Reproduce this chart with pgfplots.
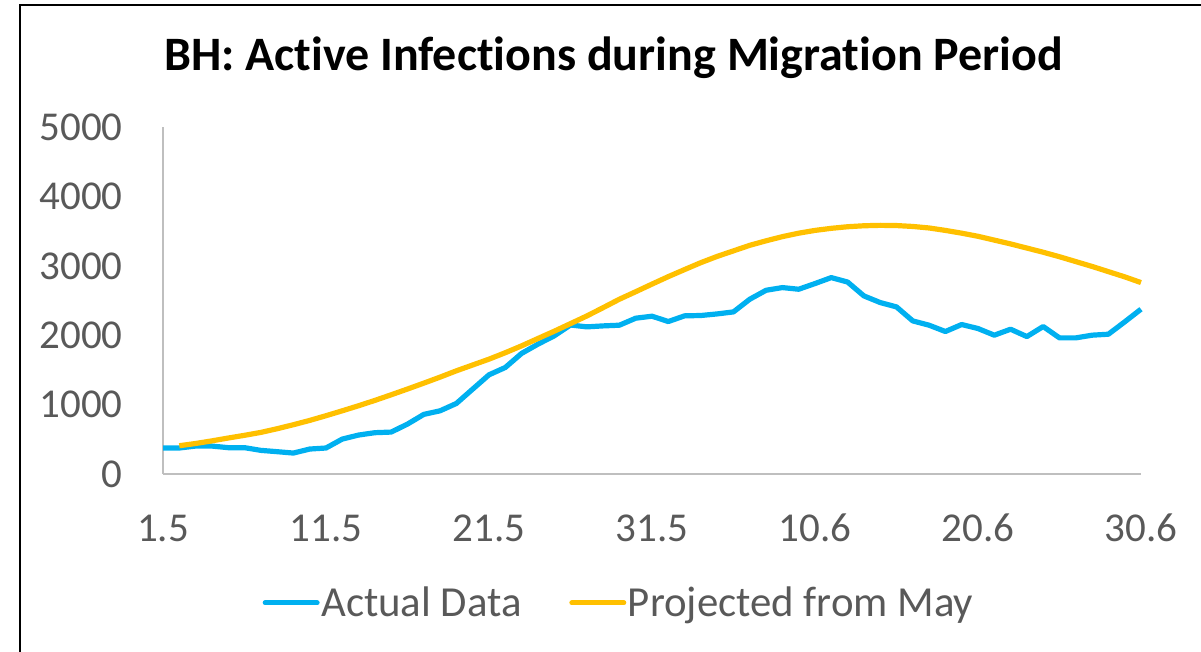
\documentclass[border=0pt]{standalone}
\usepackage{fontspec}
\setmainfont{Carlito}[Ligatures=NoCommon]
\usepackage{pgfplots}
\pgfplotsset{compat=1.18}
\definecolor{actblue}{HTML}{00B0F0}
\definecolor{projyel}{HTML}{FFC000}
\definecolor{tickgray}{HTML}{595959}
\definecolor{axgray}{HTML}{BFBFBF}
\begin{document}
\begin{tikzpicture}[x=1pt,y=1pt]
\useasboundingbox (0,0) rectangle (600.5,326);
% chart border (left and top visible)
\draw[black, line width=1pt] (10,-2) -- (10,323.5) -- (602,323.5);
% title
\node[font=\fontsize{24}{28}\selectfont\bfseries, text=black, anchor=base, inner sep=0pt] at (306.75,290.5) {BH: Active Infections during Migration Period};
\begin{axis}[
  at={(81.5pt,89pt)}, anchor=south west,
  scale only axis, width=489pt, height=173.25pt,
  xmin=0, xmax=60, ymin=0, ymax=5000,
  clip=false,
  axis lines*=left,
  axis line style={axgray, line width=0.9pt, -},
  major tick length=0pt,
  xtick={0,10,20,30,40,50,60},
  xticklabels={1.5,11.5,21.5,31.5,10.6,20.6,30.6},
  ytick={0,1000,2000,3000,4000,5000},
  yticklabels={0,1000,2000,3000,4000,5000},
  tick label style={font=\fontsize{20.5}{24}\selectfont, text=tickgray, inner sep=0pt},
  xticklabel style={anchor=center, yshift=-27pt},
  yticklabel style={anchor=east, xshift=-20pt},
  legend style={at={(0.466,-0.372)}, anchor=center, draw=none, fill=none,
    font=\fontsize{21.4}{25}\selectfont, text=tickgray, inner sep=0pt,
    nodes={inner sep=0.8pt},
    /tikz/every even column/.append style={column sep=23pt}},
  legend columns=2,
  legend image code/.code={\draw[#1, line cap=round, line width=2.5pt] (1pt,0pt) -- (27pt,0pt);},
]
\addplot[actblue, line width=2.6pt, line join=round] coordinates {
(0,375) (1,375) (2,403) (3,403) (4,380) (5,380) (6,341) (7,322) (8,302) (9,360)
(10,375) (11,504) (12,562) (13,596) (14,605) (15,720) (16,860) (17,912) (18,1018) (19,1225)
(20,1431) (21,1537) (22,1740) (23,1873) (24,1993) (25,2150) (26,2123) (27,2137) (28,2147) (29,2248)
(30,2277) (31,2200) (32,2282) (33,2287) (34,2310) (35,2339) (36,2522) (37,2651) (38,2690) (39,2666)
(40,2748) (41,2834) (42,2770) (43,2570) (44,2474) (45,2411) (46,2209) (47,2147) (48,2056) (49,2157)
(50,2099) (51,2003) (52,2089) (53,1983) (54,2128) (55,1964) (56,1964) (57,2003) (58,2017) (59,2195)
(60,2378)
};
\addlegendentry{Actual Data}
\addplot[projyel, line width=2.6pt, line join=round] coordinates {
(1,408) (2,440) (3,478) (4,519) (5,558) (6,600) (7,653) (8,711) (9,773)
(10,841) (11,912) (12,985) (13,1062) (14,1143) (15,1226) (16,1311) (17,1398) (18,1489) (19,1573)
(20,1657) (21,1750) (22,1849) (23,1955) (24,2060) (25,2170) (26,2280) (27,2400) (28,2522) (29,2630)
(30,2740) (31,2848) (32,2950) (33,3050) (34,3140) (35,3220) (36,3300) (37,3365) (38,3425) (39,3475)
(40,3515) (41,3545) (42,3568) (43,3582) (44,3588) (45,3585) (46,3572) (47,3550) (48,3515) (49,3475)
(50,3430) (51,3375) (52,3320) (53,3260) (54,3200) (55,3135) (56,3065) (57,2995) (58,2920) (59,2845)
(60,2762)
};
\addlegendentry{Projected from May}
\end{axis}
\end{tikzpicture}
\end{document}
